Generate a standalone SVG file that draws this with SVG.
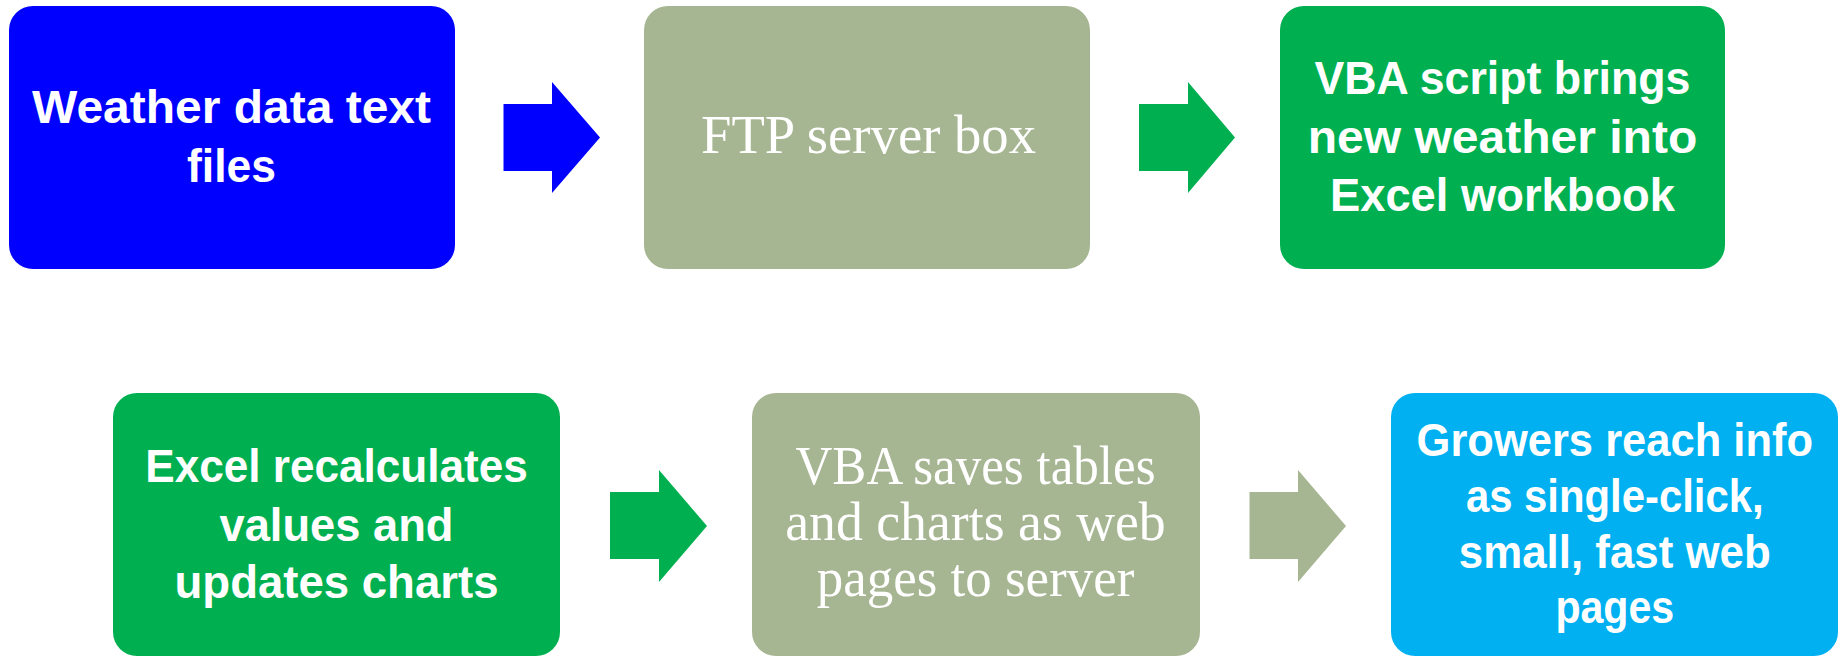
<svg xmlns="http://www.w3.org/2000/svg" width="1841" height="658" viewBox="0 0 1841 658">
<style>
.b{font-family:"Liberation Sans",Arial,sans-serif;font-weight:bold;font-size:46px;fill:#FFFFFF;text-anchor:middle}
.s{font-family:"Liberation Serif","Times New Roman",serif;font-size:54px;fill:#FFFFFF;text-anchor:middle}
.blue{fill:#0000FF}.sage{fill:#A6B592}.green{fill:#00B050}.sky{fill:#00B0F0}
</style>
<rect width="1841" height="658" fill="#FFFFFF"/>
<g id="connectors">
<polygon class="blue" points="503.5,104 552,104 552,82 600,137.5 552,193 552,171 503.5,171"/>
<polygon class="green" points="1139,104 1188,104 1188,82 1235,137.5 1188,193 1188,171 1139,171"/>
<polygon class="green" points="610,492 659,492 659,470 707,526 659,582 659,559 610,559"/>
<polygon class="sage" points="1249.5,492 1298,492 1298,470 1346,526 1298,582 1298,559 1249.5,559"/>
</g>
<g id="node1">
<rect class="blue" x="9" y="6" width="446" height="263" rx="24"/>
<text class="b" x="231.5" y="123" textLength="399" lengthAdjust="spacingAndGlyphs">Weather data text</text>
<text class="b" x="231.5" y="182" textLength="89" lengthAdjust="spacingAndGlyphs">files</text>
</g>
<g id="node2">
<rect class="sage" x="644" y="6" width="446" height="263" rx="24"/>
<text class="s" x="868.5" y="153" textLength="335" lengthAdjust="spacingAndGlyphs">FTP server box</text>
</g>
<g id="node3">
<rect class="green" x="1280" y="6" width="445" height="263" rx="24"/>
<text class="b" x="1502.5" y="94" textLength="376" lengthAdjust="spacingAndGlyphs">VBA script brings</text>
<text class="b" x="1502.5" y="153" textLength="389.5" lengthAdjust="spacingAndGlyphs">new weather into</text>
<text class="b" x="1502.5" y="211" textLength="345" lengthAdjust="spacingAndGlyphs">Excel workbook</text>
</g>
<g id="node4">
<rect class="green" x="113" y="393" width="447" height="263" rx="24"/>
<text class="b" x="336.5" y="482" textLength="382.5" lengthAdjust="spacingAndGlyphs">Excel recalculates</text>
<text class="b" x="336.5" y="541" textLength="234" lengthAdjust="spacingAndGlyphs">values and</text>
<text class="b" x="336.5" y="598" textLength="324" lengthAdjust="spacingAndGlyphs">updates charts</text>
</g>
<g id="node5">
<rect class="sage" x="752" y="393" width="448" height="263" rx="24"/>
<text class="s" x="975.5" y="484" textLength="360" lengthAdjust="spacingAndGlyphs">VBA saves tables</text>
<text class="s" x="975.5" y="540" textLength="380.5" lengthAdjust="spacingAndGlyphs">and charts as web</text>
<text class="s" x="975.5" y="596" textLength="317.6" lengthAdjust="spacingAndGlyphs">pages to server</text>
</g>
<g id="node6">
<rect class="sky" x="1391" y="393" width="447" height="263" rx="24"/>
<text class="b" x="1614.8" y="456" textLength="396.5" lengthAdjust="spacingAndGlyphs">Growers reach info</text>
<text class="b" x="1614.8" y="512" textLength="297.8" lengthAdjust="spacingAndGlyphs">as single-click,</text>
<text class="b" x="1614.8" y="568" textLength="312" lengthAdjust="spacingAndGlyphs">small, fast web</text>
<text class="b" x="1614.8" y="623" textLength="118.8" lengthAdjust="spacingAndGlyphs">pages</text>
</g>
</svg>
